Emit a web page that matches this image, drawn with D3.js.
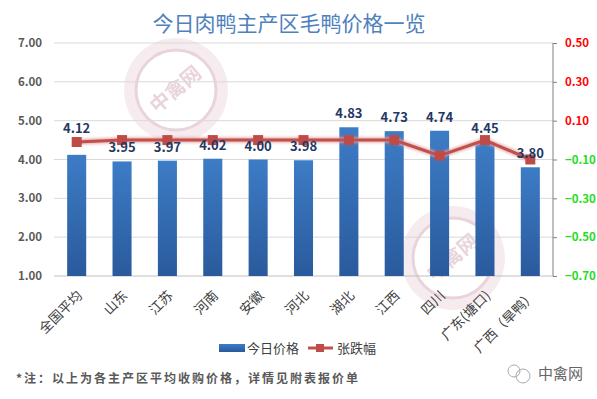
<!DOCTYPE html>
<html>
<head>
<meta charset="utf-8">
<script src="https://cdn.jsdelivr.net/npm/d3@7"></script>
<style>
  html, body { margin: 0; padding: 0; background: #fff; }
  svg { display: block; font-family: "Noto Sans CJK SC", "Noto Sans", sans-serif; }
</style>
</head>
<body>
<div id="chart"></div>
<script>
const categories = ["全国平均", "山东", "江苏", "河南", "安徽", "河北", "湖北", "江西", "四川", "广东(塘口)", "广西（旱鸭）"];
const prices = [4.12, 3.95, 3.97, 4.02, 4.00, 3.98, 4.83, 4.73, 4.74, 4.45, 3.80];
const changes = [-0.01, 0.00, 0.00, 0.00, 0.00, 0.00, 0.00, 0.00, -0.08, 0.00, -0.10];
const leftTicks = [1, 2, 3, 4, 5, 6, 7];
const rightTicks = [-0.7, -0.5, -0.3, -0.1, 0.1, 0.3, 0.5];

const width = 597, height = 399;
const margin = { top: 43, right: 44, bottom: 123, left: 54 };
const innerW = width - margin.left - margin.right;
const innerH = height - margin.top - margin.bottom;

const svg = d3.select("#chart").append("svg")
  .attr("width", width)
  .attr("height", height);

const defs = svg.append("defs");
const grad = defs.append("linearGradient")
  .attr("id", "barGrad")
  .attr("x1", 0).attr("y1", 0).attr("x2", 0).attr("y2", 1);
grad.append("stop").attr("offset", "0%").attr("stop-color", "#3d7cc6");
grad.append("stop").attr("offset", "100%").attr("stop-color", "#2a5a9c");

const blur = defs.append("filter").attr("id", "glow")
  .attr("x", "-10%").attr("y", "-50%").attr("width", "120%").attr("height", "200%");
blur.append("feGaussianBlur").attr("stdDeviation", 1.5);

// watermarks
function watermark(cx, cy) {
  const g = svg.append("g").attr("opacity", 0.4);
  g.append("circle").attr("cx", cx).attr("cy", cy).attr("r", 52)
    .attr("fill", "#ead2da");
  g.append("circle").attr("cx", cx).attr("cy", cy).attr("r", 40)
    .attr("fill", "#fff").attr("stroke", "#c995a8").attr("stroke-width", 3);
  g.append("text").attr("x", cx).attr("y", cy + 6)
    .attr("text-anchor", "middle")
    .attr("transform", `rotate(-40,${cx},${cy})`)
    .attr("font-size", 20).attr("font-weight", "bold")
    .attr("fill", "#c995a8").text("中禽网");
}
watermark(176, 90);
watermark(453, 258);

const g = svg.append("g").attr("transform", `translate(${margin.left},${margin.top})`);

const x = d3.scaleBand().domain(categories).range([0, innerW]).paddingInner(0.58).paddingOuter(0.29);
const y = d3.scaleLinear().domain([1, 7]).range([innerH, 0]);
const y2 = d3.scaleLinear().domain([-0.7, 0.5]).range([innerH, 0]);

// gridlines
g.append("g")
  .selectAll("line")
  .data(leftTicks)
  .join("line")
  .attr("x1", 0).attr("x2", innerW)
  .attr("y1", d => y(d)).attr("y2", d => y(d))
  .attr("stroke", d => d === 1 ? "#bfbfbf" : "#d9d9d9")
  .attr("stroke-width", 1);

// left axis labels
g.append("g")
  .selectAll("text")
  .data(leftTicks)
  .join("text")
  .attr("x", -12)
  .attr("y", d => y(d) + 4)
  .attr("text-anchor", "end")
  .attr("font-size", 11.5)
  .attr("font-weight", "bold")
  .attr("fill", "#595959")
  .text(d => d.toFixed(2));

// right axis
const rightAxis = g.append("g").attr("transform", `translate(${innerW},0)`)
  .call(d3.axisRight(y2).tickValues(rightTicks).tickSize(4).tickFormat(d3.format(".2f")));
rightAxis.select(".domain").attr("stroke", "#808080").attr("d", `M0,0V${innerH}`);
rightAxis.selectAll(".tick line").attr("stroke", "#808080");
rightAxis.selectAll(".tick text")
  .attr("x", 12)
  .attr("font-size", 11.5)
  .attr("font-weight", "bold")
  .attr("font-family", "'Noto Sans CJK SC', sans-serif")
  .attr("fill", d => d > 0 ? "#ff0000" : "#22dd22");

// bars
g.append("g")
  .selectAll("rect")
  .data(prices)
  .join("rect")
  .attr("x", (d, i) => x(categories[i]))
  .attr("y", d => y(d))
  .attr("width", x.bandwidth())
  .attr("height", d => innerH - y(d))
  .attr("fill", "url(#barGrad)");

// line with glow
const line = d3.line()
  .x((d, i) => x(categories[i]) + x.bandwidth() / 2)
  .y(d => y2(d));

g.append("path")
  .datum(changes)
  .attr("d", line)
  .attr("fill", "none")
  .attr("stroke", "#e3a5a3")
  .attr("stroke-width", 5)
  .attr("filter", "url(#glow)");

g.append("path")
  .datum(changes)
  .attr("d", line)
  .attr("fill", "none")
  .attr("stroke", "#c0504d")
  .attr("stroke-width", 3);

g.append("g")
  .selectAll("rect")
  .data(changes)
  .join("rect")
  .attr("x", (d, i) => x(categories[i]) + x.bandwidth() / 2 - 5)
  .attr("y", d => y2(d) - 5)
  .attr("width", 10)
  .attr("height", 10)
  .attr("fill", "#be4b48");

// bar labels (moved above the marker when the marker would cover the text)
function labelY(d, i) {
  const base = y(d) - 9;
  const m = y2(changes[i]);
  return (m < base && base - m < 7) ? m - 9 : base;
}
g.append("g")
  .selectAll("text")
  .data(prices)
  .join("text")
  .attr("x", (d, i) => x(categories[i]) + x.bandwidth() / 2)
  .attr("y", labelY)
  .attr("text-anchor", "middle")
  .attr("font-size", 13)
  .attr("font-weight", "bold")
  .attr("fill", "#1f3864")
  .text(d => d.toFixed(2));

// x labels rotated
g.append("g")
  .selectAll("text")
  .data(categories)
  .join("text")
  .attr("transform", d => `translate(${x(d) + x.bandwidth() / 2 + 3},${innerH + 17}) rotate(-45)`)
  .attr("text-anchor", "end")
  .attr("dy", "0.35em")
  .attr("font-size", 13.5)
  .attr("fill", "#404040")
  .text(d => d);

// title
svg.append("text")
  .attr("x", 289)
  .attr("y", 31)
  .attr("text-anchor", "middle")
  .attr("font-size", 21)
  .attr("fill", "#4f81bd")
  .text("今日肉鸭主产区毛鸭价格一览");

// legend
const legend = svg.append("g").attr("transform", "translate(219,348)");
legend.append("rect").attr("x", 0).attr("y", -4).attr("width", 26).attr("height", 8).attr("fill", "url(#barGrad)");
legend.append("text").attr("x", 28).attr("y", 5).attr("font-size", 13).attr("fill", "#404040").text("今日价格");
legend.append("line").attr("x1", 89).attr("x2", 114).attr("y1", 0).attr("y2", 0)
  .attr("stroke", "#c0504d").attr("stroke-width", 3);
legend.append("rect").attr("x", 97).attr("y", -4).attr("width", 8).attr("height", 8).attr("fill", "#be4b48");
legend.append("text").attr("x", 118).attr("y", 5).attr("font-size", 13).attr("fill", "#404040").text("张跌幅");

// footnote
svg.append("text")
  .attr("x", 16)
  .attr("y", 383)
  .attr("font-size", 12)
  .attr("font-weight", "bold")
  .attr("letter-spacing", 2)
  .attr("fill", "#595959")
  .text("*注：以上为各主产区平均收购价格，详情见附表报价单");

// brand mark
const brand = svg.append("g").attr("transform", "translate(508,373)");
brand.append("circle").attr("cx", 6).attr("cy", -2).attr("r", 6).attr("fill", "none").attr("stroke", "#aaa").attr("stroke-width", 1);
brand.append("circle").attr("cx", 15).attr("cy", 3).attr("r", 7).attr("fill", "none").attr("stroke", "#aaa").attr("stroke-width", 1);
brand.append("text").attr("x", 30).attr("y", 6).attr("font-size", 15).attr("fill", "#666").text("中禽网");
</script>
</body>
</html>
